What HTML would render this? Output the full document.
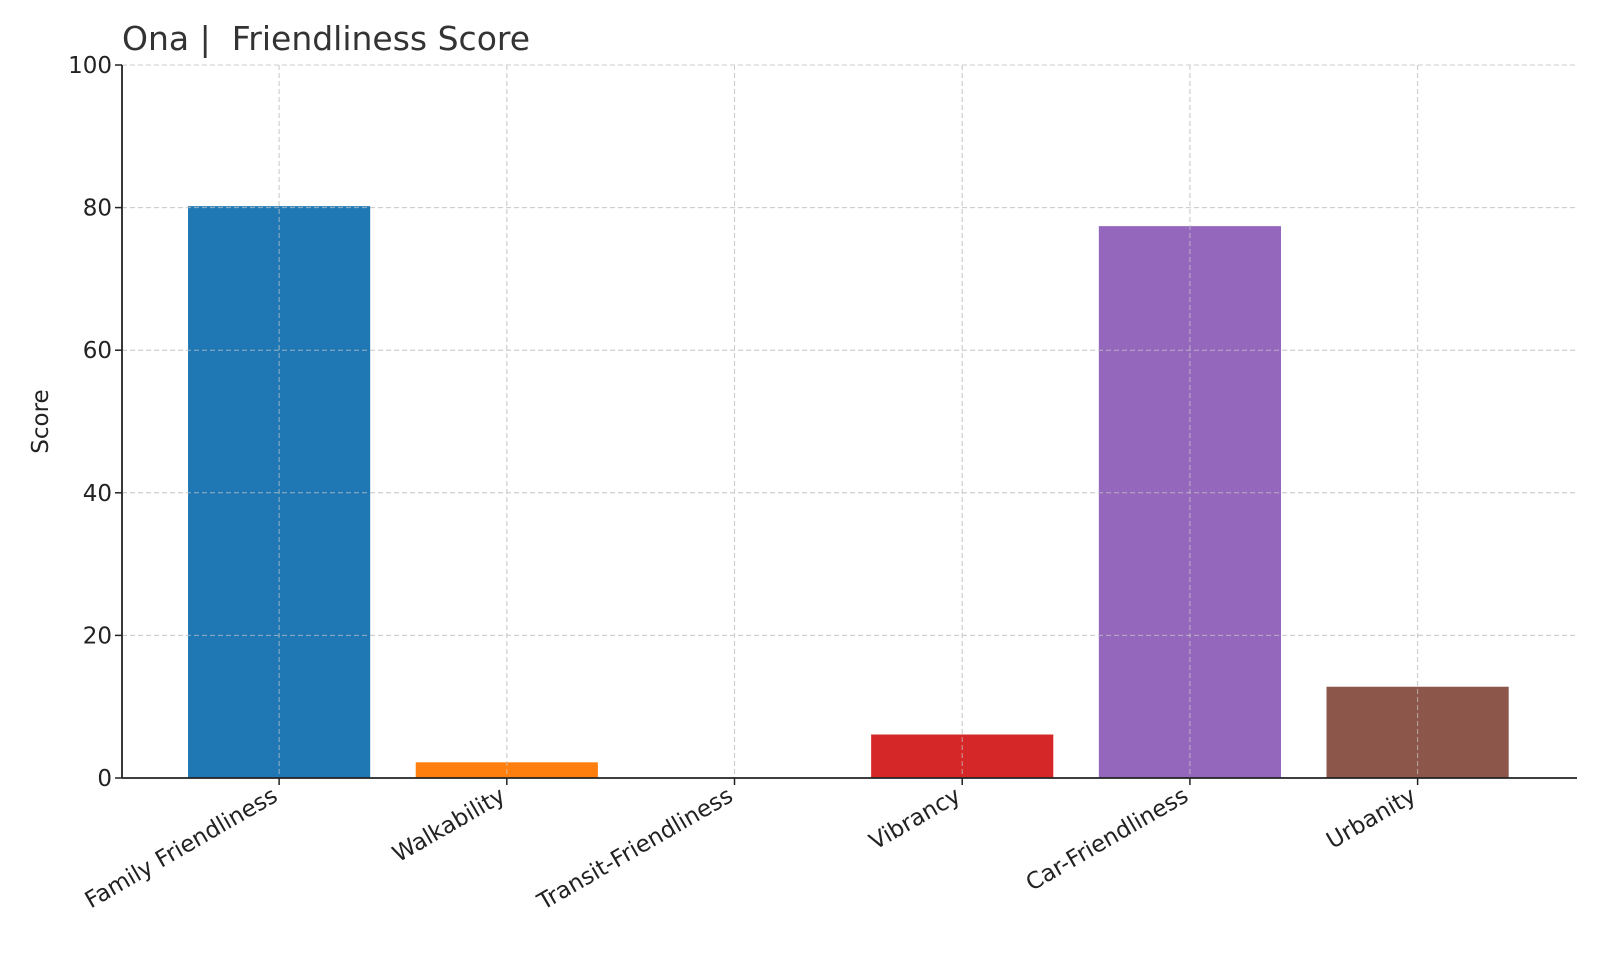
<!DOCTYPE html>
<html><head><meta charset="utf-8"><style>
body{margin:0;background:#fff}
svg{font-family:"DejaVu Sans","Liberation Sans",sans-serif}
</style></head><body>
<svg id="c" width="1600" height="960"></svg>
<script>
const categories=["Family Friendliness","Walkability","Transit-Friendliness","Vibrancy","Car-Friendliness","Urbanity"];
const scores=[80.2,2.2,0,6.1,77.4,12.8];
const colors=["#1f77b4","#ff7f0e","#2ca02c","#d62728","#9467bd","#8c564b"];
const yTicks=[0,20,40,60,80,100];
const NS="http://www.w3.org/2000/svg";
const svg=document.getElementById('c');
const L=122,R=1577,T=65,B=778;
const xmin=-0.69,xmax=5.7;
const x=i=>L+(i-xmin)/(xmax-xmin)*(R-L);
const y=v=>B-(v/100)*(B-T);
const bw=0.8*(R-L)/(xmax-xmin);
function mk(t,a){const e=document.createElementNS(NS,t);for(const k in a)e.setAttribute(k,a[k]);svg.appendChild(e);return e;}
// grid
yTicks.forEach(v=>{const g=mk('line',{x1:L,x2:R,y1:y(v),y2:y(v),stroke:'#ccc','stroke-dasharray':'5,3','stroke-width':1});

});
categories.forEach((c,i)=>{const g=mk('line',{x1:x(i),x2:x(i),y1:T,y2:B,stroke:'#ccc','stroke-dasharray':'5,3','stroke-width':1});

});
// bars
categories.forEach((c,i)=>{const h=B-y(scores[i]);const r=mk('rect',{x:x(i)-bw/2,y:y(scores[i]),width:bw,height:h,fill:colors[i]});

});
// grid over bars (matplotlib draws grid above)
categories.forEach((c,i)=>{const g=mk('line',{x1:x(i),x2:x(i),y1:T,y2:B,stroke:'#ccc','stroke-dasharray':'5,3','stroke-width':1,opacity:0.7});

});
yTicks.forEach(v=>{const g=mk('line',{x1:L,x2:R,y1:y(v),y2:y(v),stroke:'#ccc','stroke-dasharray':'5,3','stroke-width':1,opacity:0.7});

});
// axes
let a=mk('line',{x1:L,x2:L,y1:T,y2:B,stroke:'#222','stroke-width':1.8});


a=mk('line',{x1:L,x2:R,y1:B,y2:B,stroke:'#222','stroke-width':1.8});


yTicks.forEach(v=>{const t=mk('line',{x1:L-7,x2:L,y1:y(v),y2:y(v),stroke:'#222','stroke-width':1.5});


const l=mk('text',{x:L-10,y:y(v)+8,'text-anchor':'end','font-size':23,fill:'#222'});l.textContent=v;

});
categories.forEach((c,i)=>{const t=mk('line',{x1:x(i),x2:x(i),y1:B,y2:B+7,stroke:'#222','stroke-width':1.5});


const l=mk('text',{x:x(i),y:B+22,'text-anchor':'end','font-size':23,fill:'#222',transform:`rotate(-30 ${x(i)} ${B+22})`});
l.textContent=c;

});
let t=mk('text',{x:48,y:(T+B)/2,'text-anchor':'middle','font-size':23,fill:'#222',transform:`rotate(-90 48 ${(T+B)/2})`});
t.textContent='Score';


t=mk('text',{x:L,y:50,'font-size':33,fill:'#333'});
t.textContent='Ona |  Friendliness Score';
t.setAttribute('xml:space','preserve');
t.style.whiteSpace='pre';


</script>
</body></html>
